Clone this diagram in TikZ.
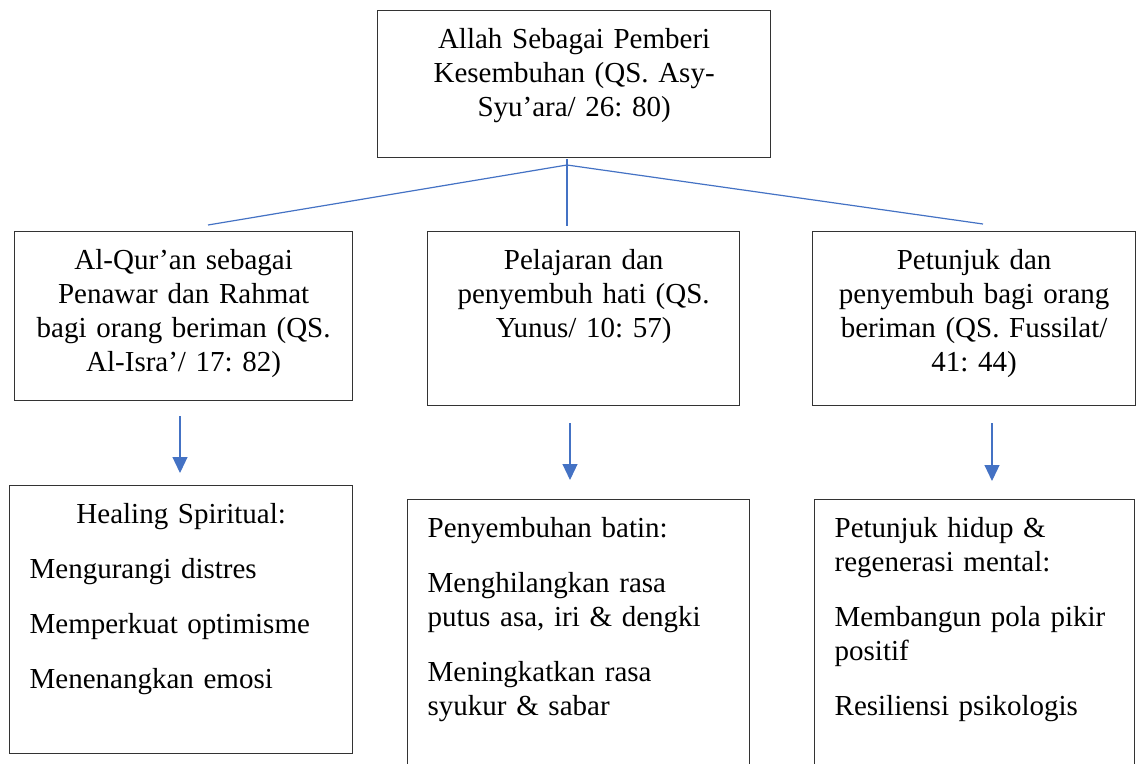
\documentclass[tikz,border=0pt]{standalone}
\usepackage{fontspec}
\setmainfont{Liberation Serif}
\usepackage{xcolor}
\usetikzlibrary{arrows.meta}
\frenchspacing
\definecolor{garisbiru}{RGB}{68,114,196}
\tikzset{
  Kotak/.style={draw=black!80, line width=1.3pt, anchor=north west,
    inner ysep=0pt, inner xsep=10pt, text height=38pt}, % für Kästen
  KotakTengah/.style={Kotak, align=center},% Text zentriert
  KotakKiri/.style={Kotak, align=left, inner xsep=20pt},% Text linksbündig
  Garis/.style={garisbiru, line width=1.2pt}, % für Verbindungen
  Panah/.style={Garis, ->, shorten >=#1} % für Pfeile
}

\begin{document}
\begin{tikzpicture}[
x=1pt, y=-1pt,
font=\fontsize{29}{34}\selectfont,
>={Triangle[width=15pt,length=16pt]} % Voreinstellung für Pfeilspitzen
]
\path[use as bounding box, clip] (0,0) rectangle (1139,763);

%Kotak
\node[KotakTengah, text width=373pt, text depth=109pt] (utama) at (377,10)
  {Allah Sebagai Pemberi\\Kesembuhan (QS. Asy-\\Syu’ara/ 26: 80)};

\node[KotakTengah, text width=318pt, text depth=131pt] (kiri) at (14,231)
  {Al-Qur’an sebagai\\Penawar dan Rahmat\\bagi orang beriman (QS.\\Al-Isra’/ 17: 82)};
\node[KotakTengah, text width=292pt, text depth=136pt] (tengah) at (427,231)
  {Pelajaran dan\\penyembuh hati (QS.\\Yunus/ 10: 57)};
\node[KotakTengah, text width=303pt, text depth=136pt] (kanan) at (812,231)
  {Petunjuk dan\\penyembuh bagi orang\\beriman (QS. Fussilat/\\41: 44)};

\node[KotakKiri, text width=303pt, text depth=230pt] (hasilkiri) at (9,485)
  {\makebox[\linewidth]{Healing Spiritual:}\\[21pt]Mengurangi distres\\[21pt]Memperkuat optimisme\\[21pt]Menenangkan emosi};
\node[KotakKiri, text width=302pt, text depth=262pt] (hasiltengah) at (407,499)
  {Penyembuhan batin:\\[21pt]Menghilangkan rasa\\putus asa, iri \& dengki\\[21pt]Meningkatkan rasa\\syukur \& sabar};
\node[KotakKiri, text width=280pt, text depth=262pt] (hasilkanan) at (814,499)
  {Petunjuk hidup \&\\regenerasi mental:\\[21pt]Membangun pola pikir\\positif\\[21pt]Resiliensi psikologis};

%Garis cabang
\coordinate (cabang) at (567,165);
\coordinate (ujungkiri) at (208,225);
\coordinate (ujungkanan) at (983,224);
\draw[Garis] (cabang) -- (ujungkiri);
\draw[Garis] (cabang) -- (ujungkanan);
\draw[Garis, shorten <=1pt, shorten >=5pt] (utama.south -| cabang) -- (tengah.north -| cabang);

%Panah
\coordinate (pkiri) at (180,416);
\coordinate (ptengah) at (570,423);
\coordinate (pkanan) at (992,423);
\draw[Panah=12pt] (pkiri) -- (pkiri |- hasilkiri.north);
\draw[Panah=19pt] (ptengah) -- (ptengah |- hasiltengah.north);
\draw[Panah=18pt] (pkanan) -- (pkanan |- hasilkanan.north);

\end{tikzpicture}
\end{document}
